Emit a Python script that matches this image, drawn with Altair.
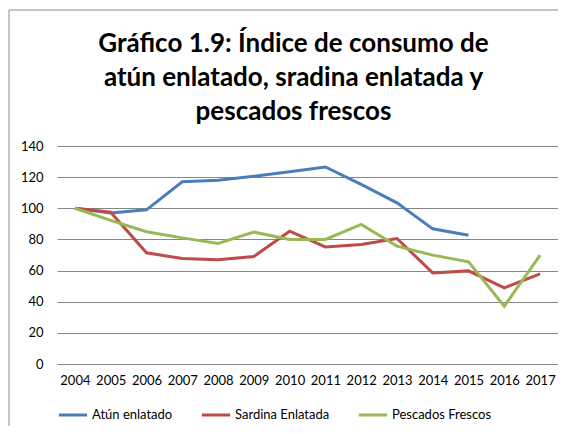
import altair as alt
import pandas as pd

years = [str(y) for y in range(2004, 2018)]
atun = [100, 97, 99, 117, 118, 120.5, 123.5, 126.5, 115.3, 103.5, 86.8, 82.7, None, None]
sardina = [100, 97.5, 71.4, 67.7, 66.9, 69, 85.3, 75.2, 76.7, 80.6, 58.5, 59.8, 48.9, 57.9]
pescados = [100, 92.2, 84.9, 81, 77.4, 84.7, 80, 80, 89.6, 75.7, 69.9, 65.6, 37.1, 69.9]
series_names = ["Atún enlatado", "Sardina Enlatada", "Pescados Frescos"]
colors = ["#4A7EBB", "#BE4B48", "#98B954"]
y_ticks = [0, 20, 40, 60, 80, 100, 120, 140]
title_lines = ["Gráfico 1.9: Índice de consumo de", "atún enlatado, sradina enlatada y", "pescados frescos"]

rows = []
for name, vals in zip(series_names, [atun, sardina, pescados]):
    for yr, v in zip(years, vals):
        if v is not None:
            rows.append({"Año": yr, "Serie": name, "Valor": v, "orden": series_names.index(name)})
df = pd.DataFrame(rows)

FONT = "Lato"

lines = alt.Chart(df).mark_line(strokeWidth=3).encode(
    x=alt.X("Año:O", sort=years, scale=alt.Scale(type="point", padding=0.5),
            axis=alt.Axis(title=None, labelAngle=0, ticks=False, domain=False,
                          labelFontSize=13, labelColor="#000000", labelFont=FONT,
                          labelPadding=10)),
    y=alt.Y("Valor:Q", scale=alt.Scale(domain=[0, 140]),
            axis=alt.Axis(title=None, values=y_ticks, ticks=False, domain=False,
                          labelFontSize=13, labelColor="#000000", labelFont=FONT,
                          labelPadding=14, gridColor="#868686", gridWidth=1)),
    color=alt.Color("Serie:N", sort=series_names,
                    scale=alt.Scale(domain=series_names, range=colors),
                    legend=alt.Legend(title=None, orient="bottom", direction="horizontal",
                                      symbolType="stroke", symbolStrokeWidth=3,
                                      symbolSize=800, labelFontSize=13, labelFont=FONT,
                                      labelColor="#000000", columnPadding=22,
                                      labelOffset=3, offset=12)),
    order="orden:Q",
    detail="Serie:N",
)

border = alt.Chart(pd.DataFrame({"a": [0]})).mark_rule(color="#8c8c8c", strokeWidth=1).encode(
    x=alt.value(-48), y=alt.value(-136), y2=alt.value(290)
) + alt.Chart(pd.DataFrame({"a": [0]})).mark_rule(color="#8c8c8c", strokeWidth=1).encode(
    x=alt.value(-48), x2=alt.value(520), y=alt.value(-136)
)

chart = alt.layer(border, lines).properties(
    width=501,
    height=218,
    autosize=alt.AutoSizeParams(type="none"),
    padding={"left": 49, "top": 138, "right": 0, "bottom": 62},
    title=alt.TitleParams(
        text=title_lines,
        fontSize=26, font=FONT, fontWeight="bold", color="#000000",
        anchor="middle", offset=-115, lineHeight=34, dx=-14,
    ),
).configure_view(stroke=None)

chart.save("out.html", embed_options={"renderer": "svg", "actions": False})
